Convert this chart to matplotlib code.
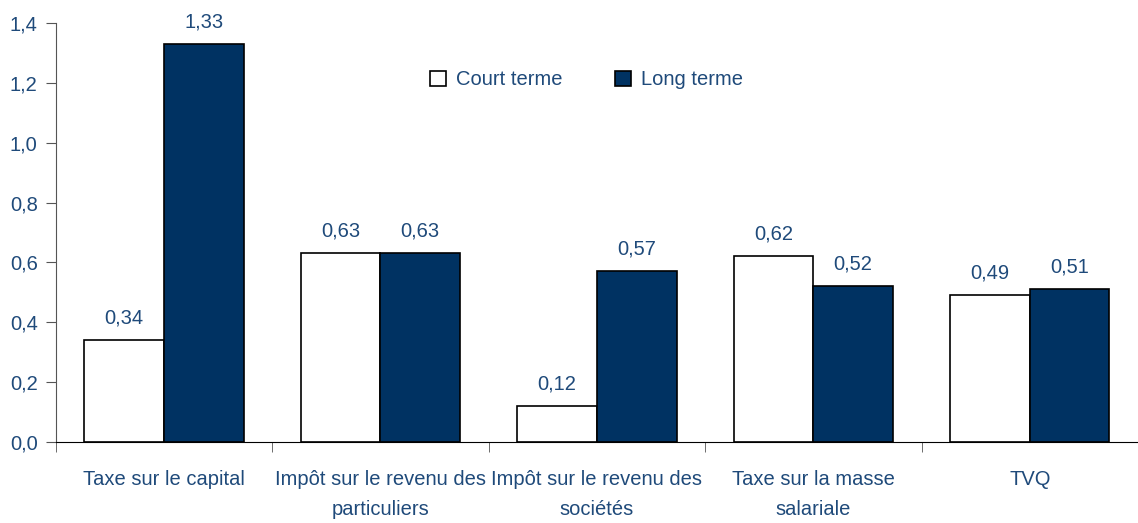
import numpy as np
import matplotlib.pyplot as plt
from matplotlib.ticker import FixedLocator

categories = ['Taxe sur le capital', 'Impôt sur le revenu des\nparticuliers',
              'Impôt sur le revenu des\nsociétés', 'Taxe sur la masse\nsalariale', 'TVQ']
court = [0.34, 0.63, 0.12, 0.62, 0.49]
long_ = [1.33, 0.63, 0.57, 0.52, 0.51]
yticks = [0.0, 0.2, 0.4, 0.6, 0.8, 1.0, 1.2, 1.4]

txt = '#1F4A7A'
navy = '#003262'
plt.rcParams['font.family'] = ['Liberation Sans', 'DejaVu Sans']

fig = plt.figure(figsize=(11.38, 5.23), dpi=100)
ax = fig.add_axes([0.049, 0.155, 0.951, 0.801])

x = np.arange(len(categories))
w = 0.368
b1 = ax.bar(x - w/2, court, w, color='white', edgecolor='black', linewidth=1.2, label='Court terme')
b2 = ax.bar(x + w/2, long_, w, color=navy, edgecolor='black', linewidth=1.2, label='Long terme')

for bars, vals in ((b1, court), (b2, long_)):
    for r, v in zip(bars, vals):
        ax.text(r.get_x() + r.get_width()/2, v + 0.043, f'{v:.2f}'.replace('.', ','),
                ha='center', va='bottom', fontsize=14.5, color=txt)

ax.set_xlim(-0.5, len(categories) - 0.5)
ax.set_ylim(0, 1.4)
ax.set_yticks(yticks)
ax.set_yticklabels([f'{t:.1f}'.replace('.', ',') for t in yticks], fontsize=14.5, color=txt)
ax.set_xticks(x)
ax.set_xticklabels(categories, fontsize=14.5, color=txt, linespacing=1.75)
ax.tick_params(axis='x', length=0, pad=20)
ax.xaxis.set_minor_locator(FixedLocator(np.arange(-0.5, len(categories), 1.0)))
ax.tick_params(axis='x', which='minor', length=7, direction='out', color='#555555')
ax.tick_params(axis='y', length=7, direction='out', color='#555555', pad=6)
ax.spines['top'].set_visible(False)
ax.spines['right'].set_visible(False)
ax.spines['left'].set_color('#555555')
ax.spines['bottom'].set_color('black')

leg = ax.legend(loc='upper left', bbox_to_anchor=(0.329, 0.93), ncol=2, frameon=False,
                fontsize=14.5, handlelength=0.8, handleheight=0.8, columnspacing=2.6,
                handletextpad=0.5)
for t in leg.get_texts():
    t.set_color(txt)

fig.savefig('out.png', dpi=100)
